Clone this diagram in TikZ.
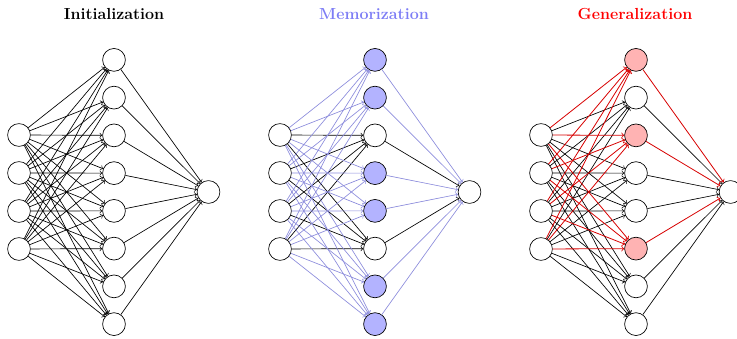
\documentclass[tikz,border=0pt]{standalone}
\definecolor{memfill}{RGB}{179,179,255}
\definecolor{memline}{RGB}{140,140,220}
\definecolor{memtitle}{RGB}{125,125,245}
\definecolor{genfill}{RGB}{255,179,179}
\definecolor{genline}{RGB}{215,0,0}
\begin{document}
\begin{tikzpicture}[x=0.026316cm,y=-0.026316cm,
  neuron/.style={circle,draw=black,line width=0.5pt,minimum size=0.6cm,inner sep=0pt,fill=white},
  np/.style={neuron},
  nm/.style={neuron,fill=memfill},
  ng/.style={neuron,fill=genfill},
  ep/.style={->,line width=0.5pt,draw=black},
  em/.style={->,line width=0.5pt,draw=memline},
  eg/.style={->,line width=0.6pt,draw=genline},
  ptitle/.style={font=\large\bfseries,inner sep=0pt}]
\useasboundingbox (0,0) rectangle (737,339);
% titles
\node[ptitle] (t1) at (114,14) {Initialization};
\node[ptitle,text=memtitle] (t2) at (374,14) {Memorization};
\node[ptitle,text=red] (t3) at (635,14) {Generalization};
% panels: offset / hidden styles
\foreach \p/\off/\styles in {1/0/{p,p,p,p,p,p,p,p},2/261/{m,m,p,m,m,p,m,m},3/522/{g,p,g,p,p,g,p,p}}{
  \foreach \j in {1,...,4}{
    \node[np] (p\p-i\j) at ({\off+19},{192+(\j-2.5)*38}) {};
  }
  \node[np] (p\p-o) at ({\off+208.5},192) {};
  \foreach \s [count=\i] in \styles {
    \node[n\s] (p\p-h\i) at ({\off+114},{192+(\i-4.5)*37.75}) {};
  }
  % plain edges first
  \foreach \s [count=\i] in \styles {
    \if\s p
      \foreach \j in {1,...,4}{\draw[ep] (p\p-i\j) -- (p\p-h\i);}
      \draw[ep] (p\p-h\i) -- (p\p-o);
    \fi
  }
  % coloured edges on top
  \foreach \s [count=\i] in \styles {
    \if\s p\else
      \foreach \j in {1,...,4}{\draw[e\s] (p\p-i\j) -- (p\p-h\i);}
      \draw[e\s] (p\p-h\i) -- (p\p-o);
    \fi
  }
}
\end{tikzpicture}
\end{document}
